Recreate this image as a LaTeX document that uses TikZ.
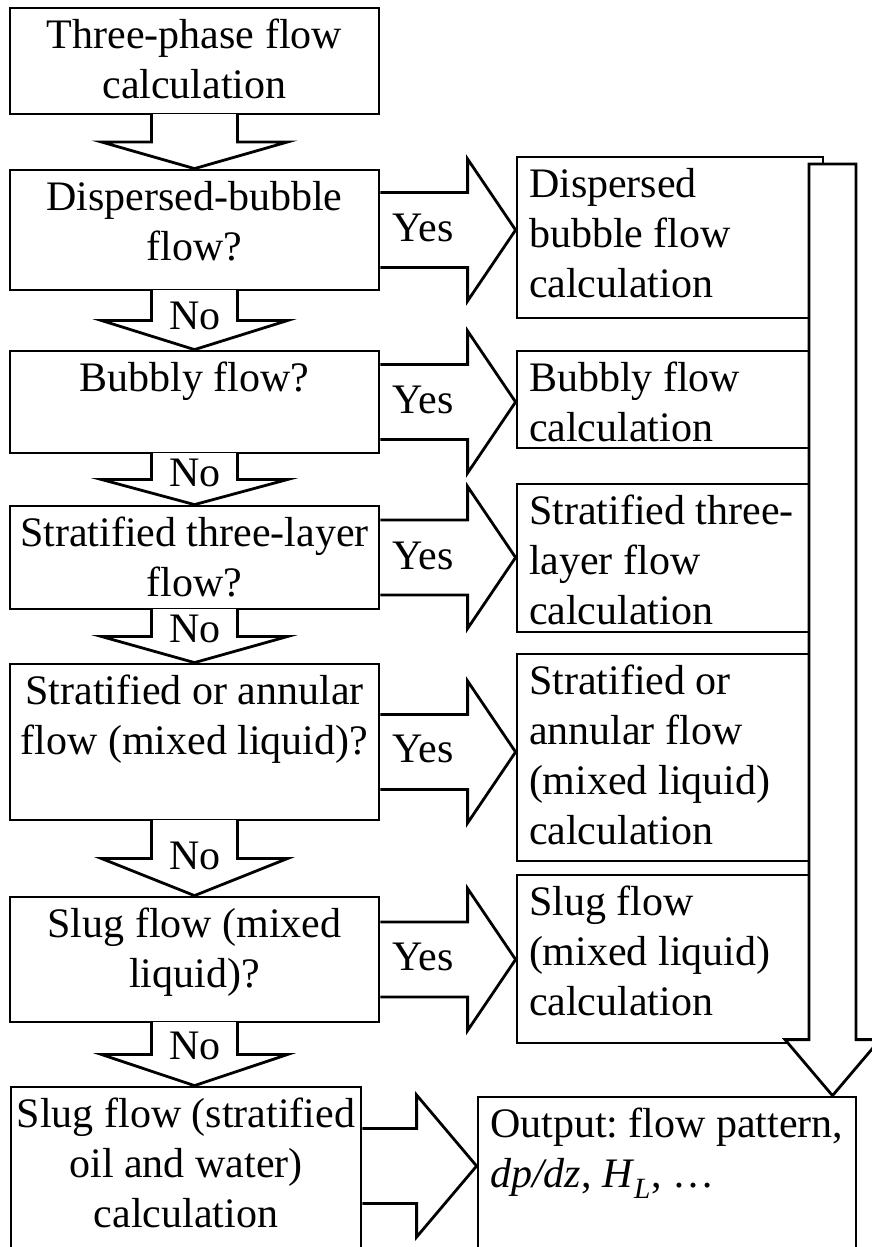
\documentclass[tikz,border=0pt]{standalone}
\usepackage{fontspec}
\setmainfont{Liberation Serif}
\usetikzlibrary{calc}

\newcommand{\fs}{\fontsize{42pt}{50pt}\selectfont\frenchspacing}
% text block pinned to the top of a box
\newcommand{\intext}[3]{\parbox[c][#1][t]{#2}{#3}}

% hollow block arrow going down, from one box to the next
\newcommand{\downarr}[2]{%
  \filldraw[arrline, fill=white] let \p1=(#1.south), \p2=(#2.north), \p3=($(#1.south)!0.5!(#2.north)$) in
    (\x1-43pt,\y1+1.4pt) -- (\x1-43pt,\y3) -- (\x1-93pt,\y3) -- (\x1,\y2)
    -- (\x1+93pt,\y3) -- (\x1+43pt,\y3) -- (\x1+43pt,\y1+1.4pt);
}
% hollow block arrow going right
\newcommand{\rightarr}[3]{%
  \filldraw[arrline, fill=white] let \p1=#1, \p2=#2 in
    (\x1,\y1+37.5pt) -- (\x2-#3,\y1+37.5pt) -- (\x2-#3,\y1+71pt) -- (\x2,\y1)
    -- (\x2-#3,\y1-71pt) -- (\x2-#3,\y1-37.5pt) -- (\x1,\y1-37.5pt);
}

\tikzset{
  qbox/.style={draw, line width=2.8pt, fill=white, inner xsep=0pt, inner ysep=11pt, font=\fs},
  rbox/.style={draw, line width=2.8pt, fill=white, inner xsep=12pt, inner ysep=11pt, font=\fs},
  arrline/.style={line width=2.8pt, line join=miter},
  lbl/.style={inner sep=0pt, font=\fs},
}

\begin{document}
\begin{tikzpicture}[x=1pt, y=-1pt]
\clip (0,0) rectangle (872,1247);

% questions
\node[qbox] (q0) at (194.5,61) {\intext{84pt}{369pt}{\centering Three-phase flow\\calculation}};
\node[qbox] (q1) at (194.5,230) {\intext{98pt}{369pt}{\centering Dispersed-bubble\\flow?}};
\node[qbox] (q2) at (194.5,402) {\intext{80pt}{369pt}{\centering Bubbly flow?}};
\node[qbox] (q3) at (194.5,557.5) {\intext{81pt}{369pt}{\centering Stratified three-layer\\flow?}};
\node[qbox] (q4) at (194.5,742) {\intext{134pt}{369pt}{\centering Stratified or annular\\flow (mixed liquid)?}};
\node[qbox] (q5) at (194.5,959.5) {\intext{103pt}{369pt}{\centering Slug flow (mixed\\liquid)?}};
\node[qbox] (q6) at (186,1176) {\intext{156pt}{350pt}{\centering Slug flow (stratified\\oil and water)\\calculation}};

% calculations
\node[rbox] (r1) at (670,237.5) {\intext{139pt}{282pt}{\raggedright Dispersed\\bubble flow\\calculation}};
\node[rbox] (r2) at (670,399.5) {\intext{75pt}{282pt}{\raggedright Bubbly flow\\calculation}};
\node[rbox] (r3) at (670,558) {\intext{126pt}{282pt}{\raggedright Stratified three-\\layer flow\\calculation}};
\node[rbox] (r4) at (670,757.5) {\intext{185pt}{282pt}{\raggedright Stratified or\\annular flow\\(mixed liquid)\\calculation}};
\node[rbox] (r5) at (670,959) {\intext{146pt}{282pt}{\raggedright Slug flow\\(mixed liquid)\\calculation}};
\node[rbox] (out) at (667,1181) {\intext{146pt}{354pt}{\raggedright \mbox{Output: flow pattern,}\\\textit{dp/dz}, \textit{H}\textsubscript{\textit{L}}, …}};

% No arrows
\downarr{q0}{q1}
\downarr{q1}{q2}
\downarr{q2}{q3}
\downarr{q3}{q4}
\downarr{q4}{q5}
\downarr{q5}{q6}

% Yes arrows
\rightarr{(q1.east)}{(r1.west)}{48pt}
\rightarr{(q2.east)}{(r2.west)}{48pt}
\rightarr{(q3.east)}{(r3.west)}{48pt}
\rightarr{($(q4.east)+(0,10)$)}{(r4.west)}{48pt}
\rightarr{(q5.east)}{(r5.west)}{48pt}
\rightarr{($(q6.east)+(0,-10)$)}{(out.west)}{60pt}

% collecting arrow
\coordinate (bigtop) at (832.5,164);
\filldraw[arrline, fill=white] let \p1=(bigtop), \p2=(bigtop |- out.north) in
  (\x1-23.5pt,\y1) -- (\x1-23.5pt,\y2+56pt) -- (\x1-47.5pt,\y2+56pt) -- (\x1,\y2)
  -- (\x1+47.5pt,\y2+56pt) -- (\x1+23.5pt,\y2+56pt) -- (\x1+23.5pt,\y1) -- cycle;

% labels
\node[lbl] (y1) at (423,228) {Yes};
\node[lbl] (y2) at (423,400) {Yes};
\node[lbl] (y3) at (423,556) {Yes};
\node[lbl] (y4) at (423,749) {Yes};
\node[lbl] (y5) at (423,957) {Yes};
\node[lbl] (n1) at (195,316) {No};
\node[lbl] (n2) at (195,473) {No};
\node[lbl] (n3) at (195,629) {No};
\node[lbl] (n4) at (195,856) {No};
\node[lbl] (n5) at (195,1046) {No};
\end{tikzpicture}
\end{document}
